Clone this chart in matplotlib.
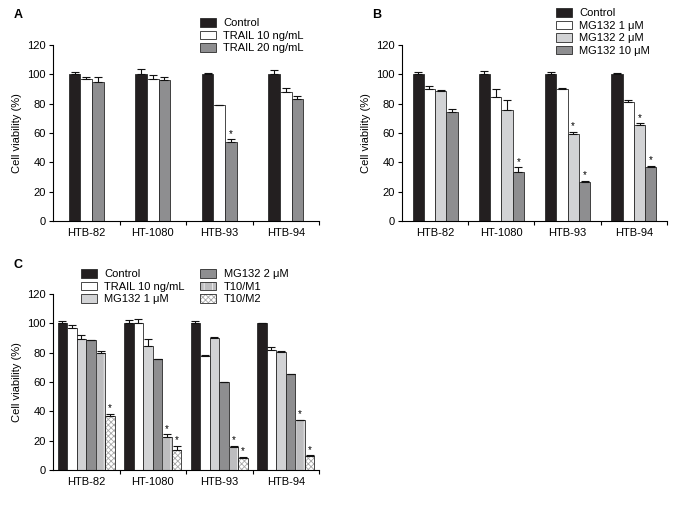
import numpy as np
import matplotlib.pyplot as plt
from matplotlib.patches import Patch
from matplotlib.legend_handler import HandlerTuple

plt.rcParams['font.family'] = ['Liberation Sans', 'DejaVu Sans']
plt.rcParams['hatch.linewidth'] = 0.6

cells = ['HTB-82', 'HT-1080', 'HTB-93', 'HTB-94']

# Panel A: TRAIL
a_labels = ['Control', 'TRAIL 10 ng/mL', 'TRAIL 20 ng/mL']
a_vals = [[100, 100, 100, 100],
          [97, 97, 78.8, 88],
          [95, 96, 53.8, 83.2]]
a_errs = [[1.8, 3.4, 0.8, 2.8],
          [1.4, 2.4, 0.6, 2.6],
          [3.2, 2.2, 1.8, 2.0]]
a_stars = [[0, 0, 0, 0], [0, 0, 0, 0], [0, 0, 1, 0]]

# Panel B: MG132
b_labels = ['Control', 'MG132 1 μM', 'MG132 2 μM', 'MG132 10 μM']
b_vals = [[100, 100, 100, 100],
          [90, 84.8, 90, 81],
          [88.6, 75.9, 59.5, 65.7],
          [74.3, 33.6, 26.9, 37]]
b_errs = [[1.6, 2.3, 1.6, 0.8],
          [2.0, 5.0, 0.5, 1.4],
          [0.4, 6.6, 1.5, 1.0],
          [2.3, 3.0, 0.4, 0.5]]
b_stars = [[0, 0, 0, 0], [0, 0, 0, 0], [0, 0, 1, 1], [0, 1, 1, 1]]

# Panel C: combinations
c_labels = ['Control', 'TRAIL 10 ng/mL', 'MG132 1 μM', 'MG132 2 μM', 'T10/M1', 'T10/M2']
c_vals = [[100, 100, 100, 100],
          [96.6, 100, 77.7, 81.8],
          [89.5, 84.5, 89.8, 80.5],
          [88.9, 75.9, 59.8, 65.5],
          [79.5, 22.7, 15.7, 33.9],
          [36.8, 13.6, 8.4, 9.8]]
c_errs = [[1.8, 2.3, 1.8, 0.5],
          [2.4, 3.2, 0.7, 1.8],
          [2.3, 5.0, 0.7, 0.9],
          [0, 0, 0, 0],
          [1.9, 1.6, 0.7, 0.4],
          [1.4, 3.0, 0.7, 0.4]]
c_stars = [[0, 0, 0, 0], [0, 0, 0, 0], [0, 0, 0, 0], [0, 0, 0, 0],
           [0, 1, 1, 1], [1, 1, 1, 1]]

BLACK = '#231f20'
DARK = '#8e8e90'
LIGHT = '#d2d3d5'
EDGE = '#2a2a2a'

# (face colour, hatch, hatch colour)
a_styles = [(BLACK, None, None), ('white', None, None), (DARK, None, None)]
b_styles = [(BLACK, None, None), ('white', None, None), (LIGHT, None, None), (DARK, None, None)]
c_styles = [(BLACK, None, None), ('white', None, None), (LIGHT, None, None), (DARK, None, None),
            ('#bdbdbf', '||', '#f0f0f0'), ('white', 'xxxxxx', '#a8a8a8')]

fig = plt.figure(figsize=(6.94, 5.13), dpi=100)
W, H = 694, 513


def add_axes(l, r, t, b):
    return fig.add_axes([l / W, 1 - b / H, (r - l) / W, (b - t) / H])


def draw_panel(ax, vals, errs, stars, styles, width):
    n = len(vals)
    x = np.arange(len(cells))
    for i in range(n):
        pos = x + (i - (n - 1) / 2) * width
        fc, hatch, hc = styles[i]
        if hatch:
            ax.bar(pos, vals[i], width, color=fc, edgecolor=hc,
                   hatch=hatch, linewidth=0, zorder=2)
            ax.bar(pos, vals[i], width, fill=False, edgecolor=EDGE,
                   linewidth=0.6, zorder=3)
        else:
            ax.bar(pos, vals[i], width, color=fc, edgecolor=EDGE,
                   linewidth=0.6, zorder=2)
        e = np.array(errs[i])
        ax.errorbar(pos, vals[i], yerr=[np.zeros_like(e), e], fmt='none',
                    ecolor='#111111', elinewidth=0.8, capsize=2.6,
                    capthick=0.8, zorder=4)
        for j in range(len(cells)):
            if stars[i][j]:
                ax.text(pos[j], vals[i][j] + errs[i][j] + 0.3, '*',
                        ha='center', va='bottom', fontsize=7)
    ax.set_xlim(-0.5, 3.5)
    ax.set_ylim(0, 120)
    ax.set_yticks(range(0, 121, 20))
    ax.set_xticks(x)
    ax.set_xticklabels(cells)
    ax.set_xticks([0.5, 1.5, 2.5, 3.5], minor=True)
    ax.tick_params(axis='x', which='major', length=0, labelsize=8, pad=5)
    ax.tick_params(axis='x', which='minor', length=3, width=0.8)
    ax.tick_params(axis='y', length=3, width=0.8, labelsize=8, pad=2)
    ax.spines['top'].set_visible(False)
    ax.spines['right'].set_visible(False)
    ax.spines['left'].set_linewidth(0.8)
    ax.spines['bottom'].set_linewidth(0.8)
    ax.set_ylabel('Cell viability (%)', fontsize=8, labelpad=4)
    handles = []
    for fc, hatch, hc in styles:
        if hatch:
            handles.append((Patch(facecolor=fc, edgecolor=hc, hatch=hatch, linewidth=0),
                            Patch(fill=False, edgecolor=EDGE, linewidth=0.6)))
        else:
            handles.append(Patch(facecolor=fc, edgecolor=EDGE, linewidth=0.6))
    return handles


leg_kw = dict(bbox_transform=fig.transFigure, frameon=False, fontsize=8,
              handlelength=1.4, handleheight=0.8, handletextpad=0.7,
              labelspacing=0.22, borderpad=0, borderaxespad=0, loc='upper left',
              handler_map={tuple: HandlerTuple(ndivide=1, pad=0)})

axA = add_axes(53, 319, 45, 221)
hA = draw_panel(axA, a_vals, a_errs, a_stars, a_styles, 0.173)
axA.legend(hA, a_labels, bbox_to_anchor=(200 / W, 1 - 18 / H), **leg_kw)

axB = add_axes(402, 667, 45, 221)
hB = draw_panel(axB, b_vals, b_errs, b_stars, b_styles, 0.17)
axB.legend(hB, b_labels, bbox_to_anchor=(556 / W, 1 - 8 / H), **leg_kw)

axC = add_axes(53, 319, 294, 470)
hC = draw_panel(axC, c_vals, c_errs, c_stars, c_styles, 0.143)
axC.legend(hC, c_labels, ncol=2, columnspacing=1.4,
           bbox_to_anchor=(81 / W, 1 - 269 / H), **leg_kw)

fig.text(14 / W, 1 - 15 / H, 'A', fontsize=9, fontweight='bold', va='center')
fig.text(372 / W, 1 - 15 / H, 'B', fontsize=9, fontweight='bold', va='center')
fig.text(14 / W, 1 - 265 / H, 'C', fontsize=9, fontweight='bold', va='center')

fig.savefig('out.png', dpi=100)
